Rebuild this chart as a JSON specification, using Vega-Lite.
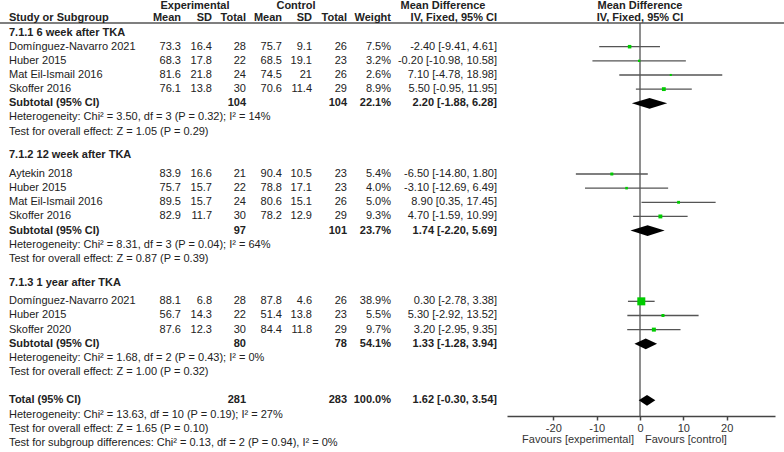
{
  "$schema": "https://vega.github.io/schema/vega-lite/v6.json",
  "width": 784,
  "height": 452,
  "padding": 0,
  "autosize": "none",
  "background": "white",
  "config": {
    "view": {"stroke": null},
    "text": {"font": "Liberation Sans", "fontSize": 11, "color": "#222"}
  },
  "datasets": {
    "studies": [
      {"r": 3, "study": "Domínguez-Navarro 2021", "em": "73.3", "esd": "16.4", "en": "28", "cm": "75.7", "csd": "9.1", "cn": "26", "w": 7.5, "ws": "7.5%", "ci": "-2.40 [-9.41, 4.61]", "md": -2.40, "lo": -9.41, "hi": 4.61},
      {"r": 4, "study": "Huber 2015", "em": "68.3", "esd": "17.8", "en": "22", "cm": "68.5", "csd": "19.1", "cn": "23", "w": 3.2, "ws": "3.2%", "ci": "-0.20 [-10.98, 10.58]", "md": -0.20, "lo": -10.98, "hi": 10.58},
      {"r": 5, "study": "Mat Eil-Ismail 2016", "em": "81.6", "esd": "21.8", "en": "24", "cm": "74.5", "csd": "21", "cn": "26", "w": 2.6, "ws": "2.6%", "ci": "7.10 [-4.78, 18.98]", "md": 7.10, "lo": -4.78, "hi": 18.98},
      {"r": 6, "study": "Skoffer 2016", "em": "76.1", "esd": "13.8", "en": "30", "cm": "70.6", "csd": "11.4", "cn": "29", "w": 8.9, "ws": "8.9%", "ci": "5.50 [-0.95, 11.95]", "md": 5.50, "lo": -0.95, "hi": 11.95},
      {"r": 12, "study": "Aytekin 2018", "em": "83.9", "esd": "16.6", "en": "21", "cm": "90.4", "csd": "10.5", "cn": "23", "w": 5.4, "ws": "5.4%", "ci": "-6.50 [-14.80, 1.80]", "md": -6.50, "lo": -14.80, "hi": 1.80},
      {"r": 13, "study": "Huber 2015", "em": "75.7", "esd": "15.7", "en": "22", "cm": "78.8", "csd": "17.1", "cn": "23", "w": 4.0, "ws": "4.0%", "ci": "-3.10 [-12.69, 6.49]", "md": -3.10, "lo": -12.69, "hi": 6.49},
      {"r": 14, "study": "Mat Eil-Ismail 2016", "em": "89.5", "esd": "15.7", "en": "24", "cm": "80.6", "csd": "15.1", "cn": "26", "w": 5.0, "ws": "5.0%", "ci": "8.90 [0.35, 17.45]", "md": 8.90, "lo": 0.35, "hi": 17.45},
      {"r": 15, "study": "Skoffer 2016", "em": "82.9", "esd": "11.7", "en": "30", "cm": "78.2", "csd": "12.9", "cn": "29", "w": 9.3, "ws": "9.3%", "ci": "4.70 [-1.59, 10.99]", "md": 4.70, "lo": -1.59, "hi": 10.99},
      {"r": 21, "study": "Domínguez-Navarro 2021", "em": "88.1", "esd": "6.8", "en": "28", "cm": "87.8", "csd": "4.6", "cn": "26", "w": 38.9, "ws": "38.9%", "ci": "0.30 [-2.78, 3.38]", "md": 0.30, "lo": -2.78, "hi": 3.38},
      {"r": 22, "study": "Huber 2015", "em": "56.7", "esd": "14.3", "en": "22", "cm": "51.4", "csd": "13.8", "cn": "23", "w": 5.5, "ws": "5.5%", "ci": "5.30 [-2.92, 13.52]", "md": 5.30, "lo": -2.92, "hi": 13.52},
      {"r": 23, "study": "Skoffer 2020", "em": "87.6", "esd": "12.3", "en": "30", "cm": "84.4", "csd": "11.8", "cn": "29", "w": 9.7, "ws": "9.7%", "ci": "3.20 [-2.95, 9.35]", "md": 3.20, "lo": -2.95, "hi": 9.35}
    ],
    "pooled": [
      {"r": 7, "label": "Subtotal (95% CI)", "en": "104", "cn": "104", "ws": "22.1%", "ci": "2.20 [-1.88, 6.28]", "md": 2.20, "lo": -1.88, "hi": 6.28},
      {"r": 16, "label": "Subtotal (95% CI)", "en": "97", "cn": "101", "ws": "23.7%", "ci": "1.74 [-2.20, 5.69]", "md": 1.74, "lo": -2.20, "hi": 5.69},
      {"r": 24, "label": "Subtotal (95% CI)", "en": "80", "cn": "78", "ws": "54.1%", "ci": "1.33 [-1.28, 3.94]", "md": 1.33, "lo": -1.28, "hi": 3.94},
      {"r": 28, "label": "Total (95% CI)", "en": "281", "cn": "283", "ws": "100.0%", "ci": "1.62 [-0.30, 3.54]", "md": 1.62, "lo": -0.30, "hi": 3.54}
    ],
    "groups": [
      {"r": 1, "t": "Study or Subgroup"},
      {"r": 2, "t": "7.1.1 6 week after TKA"},
      {"r": 10.65, "t": "7.1.2 12 week after TKA"},
      {"r": 19.7, "t": "7.1.3 1 year after TKA"}
    ],
    "notes": [
      {"r": 8, "t": "Heterogeneity: Chi² = 3.50, df = 3 (P = 0.32); I² = 14%"},
      {"r": 9, "t": "Test for overall effect: Z = 1.05 (P = 0.29)"},
      {"r": 17, "t": "Heterogeneity: Chi² = 8.31, df = 3 (P = 0.04); I² = 64%"},
      {"r": 18, "t": "Test for overall effect: Z = 0.87 (P = 0.39)"},
      {"r": 25, "t": "Heterogeneity: Chi² = 1.68, df = 2 (P = 0.43); I² = 0%"},
      {"r": 26, "t": "Test for overall effect: Z = 1.00 (P = 0.32)"},
      {"r": 29, "t": "Heterogeneity: Chi² = 13.63, df = 10 (P = 0.19); I² = 27%"},
      {"r": 30, "t": "Test for overall effect: Z = 1.65 (P = 0.10)"},
      {"r": 31, "t": "Test for subgroup differences: Chi² = 0.13, df = 2 (P = 0.94), I² = 0%"}
    ],
    "headC": [
      {"r": 0.15, "c": 9, "t": "Experimental"},
      {"r": 0.15, "c": 10, "t": "Control"},
      {"r": 0.15, "c": 11, "t": "Mean Difference"},
      {"r": 0.15, "c": 12, "t": "Mean Difference"},
      {"r": 1, "c": 12, "t": "IV, Fixed, 95% CI"}
    ],
    "headR": [
      {"r": 1, "c": 1, "t": "Mean"},
      {"r": 1, "c": 2, "t": "SD"},
      {"r": 1, "c": 3, "t": "Total"},
      {"r": 1, "c": 4, "t": "Mean"},
      {"r": 1, "c": 5, "t": "SD"},
      {"r": 1, "c": 6, "t": "Total"},
      {"r": 1, "c": 7, "t": "Weight"},
      {"r": 1, "c": 8, "t": "IV, Fixed, 95% CI"}
    ]
  },
  "layer": [
    {
      "layer": [
        {
          "data": {"values": [{}]},
          "mark": {"type": "rule", "color": "#555", "strokeWidth": 1.5},
          "encoding": {
            "y": {"datum": 1.33, "type": "quantitative", "scale": {"domain": [-0.3, 31.65], "reverse": true, "zero": false, "nice": false}, "axis": null}
          }
        },
        {
          "data": {"name": "headC"},
          "mark": {"type": "text", "align": "center", "fontWeight": "bold"},
          "encoding": {
            "x": {"field": "c", "type": "quantitative", "scale": {"domain": [0, 1, 2, 3, 4, 5, 6, 7, 8, 9, 10, 11, 12], "range": [9, 181, 212, 246, 282, 312, 347, 391, 497, 195, 296, 443, 640], "zero": false, "nice": false}, "axis": null},
            "y": {"field": "r", "type": "quantitative", "axis": null},
            "text": {"field": "t"}
          }
        },
        {
          "data": {"name": "headR"},
          "mark": {"type": "text", "align": "right", "fontWeight": "bold"},
          "encoding": {
            "x": {"field": "c", "type": "quantitative", "axis": null},
            "y": {"field": "r", "type": "quantitative", "axis": null},
            "text": {"field": "t"}
          }
        },
        {
          "data": {"name": "groups"},
          "mark": {"type": "text", "align": "left", "fontWeight": "bold"},
          "encoding": {
            "x": {"datum": 0, "type": "quantitative", "axis": null},
            "y": {"field": "r", "type": "quantitative", "axis": null},
            "text": {"field": "t"}
          }
        },
        {
          "data": {"name": "notes"},
          "mark": {"type": "text", "align": "left"},
          "encoding": {
            "x": {"datum": 0, "type": "quantitative", "axis": null},
            "y": {"field": "r", "type": "quantitative", "axis": null},
            "text": {"field": "t"}
          }
        },
        {
          "data": {"name": "studies"},
          "mark": {"type": "text", "align": "left"},
          "encoding": {
            "x": {"datum": 0, "type": "quantitative", "axis": null},
            "y": {"field": "r", "type": "quantitative", "axis": null},
            "text": {"field": "study"}
          }
        },
        {
          "data": {"name": "studies"},
          "transform": [
            {"fold": ["em", "esd", "en", "cm", "csd", "cn", "ws", "ci"], "as": ["key", "val"]},
            {"calculate": "indexof(['em','esd','en','cm','csd','cn','ws','ci'], datum.key) + 1", "as": "c"}
          ],
          "mark": {"type": "text", "align": "right"},
          "encoding": {
            "x": {"field": "c", "type": "quantitative", "axis": null},
            "y": {"field": "r", "type": "quantitative", "axis": null},
            "text": {"field": "val"}
          }
        },
        {
          "data": {"name": "pooled"},
          "mark": {"type": "text", "align": "left", "fontWeight": "bold"},
          "encoding": {
            "x": {"datum": 0, "type": "quantitative", "axis": null},
            "y": {"field": "r", "type": "quantitative", "axis": null},
            "text": {"field": "label"}
          }
        },
        {
          "data": {"name": "pooled"},
          "transform": [
            {"fold": ["en", "cn", "ws", "ci"], "as": ["key", "val"]},
            {"calculate": "[3, 6, 7, 8][indexof(['en','cn','ws','ci'], datum.key)]", "as": "c"}
          ],
          "mark": {"type": "text", "align": "right", "fontWeight": "bold"},
          "encoding": {
            "x": {"field": "c", "type": "quantitative", "axis": null},
            "y": {"field": "r", "type": "quantitative", "axis": null},
            "text": {"field": "val"}
          }
        }
      ]
    },
    {
      "layer": [
        {
          "data": {"values": [{}]},
          "mark": {"type": "rule", "color": "#444", "strokeWidth": 1.2},
          "encoding": {
            "x": {
              "datum": 0, "type": "quantitative",
              "scale": {"domain": [-30.69, 31.15], "range": [507, 775], "zero": false, "nice": false},
              "axis": {
                "orient": "bottom", "offset": -36, "values": [-20, -10, 0, 10, 20],
                "grid": false, "title": null, "domainColor": "#444", "domainWidth": 1.5,
                "tickColor": "#444", "tickWidth": 1.5, "tickSize": 4,
                "labelFont": "Liberation Sans", "labelFontSize": 11, "labelColor": "#333",
                "labelPadding": 2, "labelExpr": "'' + datum.value"
              }
            },
            "y": {"datum": 1.33, "type": "quantitative", "axis": null},
            "y2": {"datum": 29.1}
          }
        },
        {
          "data": {"name": "studies"},
          "mark": {"type": "rule", "color": "#555", "strokeWidth": 1.3},
          "encoding": {
            "x": {"field": "lo", "type": "quantitative"},
            "x2": {"field": "hi"},
            "y": {"field": "r", "type": "quantitative", "axis": null}
          }
        },
        {
          "data": {"name": "studies"},
          "mark": {"type": "point", "shape": "square", "filled": true, "color": "#00cc00", "opacity": 1},
          "encoding": {
            "x": {"field": "md", "type": "quantitative"},
            "y": {"field": "r", "type": "quantitative", "axis": null},
            "size": {"field": "w", "type": "quantitative", "scale": {"domain": [0, 40], "range": [0, 66]}, "legend": null}
          }
        },
        {
          "data": {"name": "pooled"},
          "transform": [
            {"fold": ["lo", "md", "hi"], "as": ["p", "xv"]},
            {"calculate": "datum.p === 'md' ? 0.38 : 0", "as": "hh"},
            {"calculate": "datum.r - datum.hh", "as": "ya"},
            {"calculate": "datum.r + datum.hh", "as": "yb"}
          ],
          "mark": {"type": "area", "orient": "vertical", "color": "black", "opacity": 1},
          "encoding": {
            "x": {"field": "xv", "type": "quantitative"},
            "y": {"field": "ya", "type": "quantitative", "axis": null},
            "y2": {"field": "yb"},
            "detail": {"field": "r", "type": "nominal"}
          }
        },
        {
          "data": {"values": [{"t": "Favours [experimental]"}]},
          "mark": {"type": "text", "align": "right", "dx": -6, "color": "#333"},
          "encoding": {
            "x": {"datum": 0, "type": "quantitative"},
            "y": {"datum": 30.8, "type": "quantitative", "axis": null},
            "text": {"field": "t"}
          }
        },
        {
          "data": {"values": [{"t": "Favours [control]"}]},
          "mark": {"type": "text", "align": "left", "dx": 5, "color": "#333"},
          "encoding": {
            "x": {"datum": 0, "type": "quantitative"},
            "y": {"datum": 30.8, "type": "quantitative", "axis": null},
            "text": {"field": "t"}
          }
        }
      ]
    }
  ],
  "resolve": {"scale": {"x": "independent"}}
}
